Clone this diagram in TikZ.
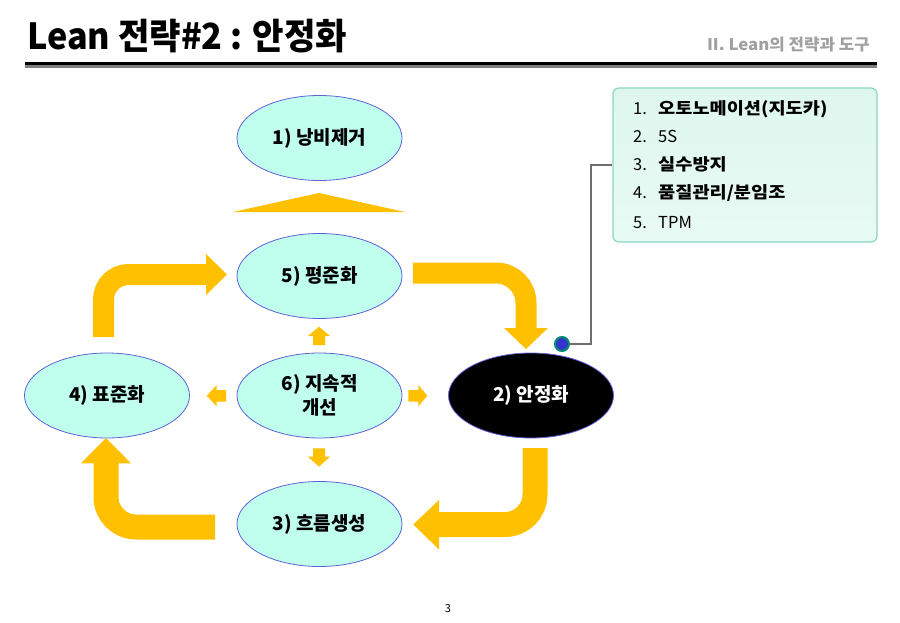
\documentclass[tikz,border=0pt]{standalone}
\usepackage{fontspec}
\setmainfont{Noto Sans CJK KR}
\usetikzlibrary{shapes.geometric,calc}
\definecolor{gold}{RGB}{255,192,0}
\definecolor{mint}{RGB}{192,255,238}
\definecolor{ellborder}{RGB}{96,96,214}
\definecolor{boxborder}{RGB}{140,212,196}
\definecolor{boxtop}{RGB}{222,247,238}
\definecolor{boxbot}{RGB}{232,250,244}
\definecolor{subgray}{RGB}{160,160,160}
\definecolor{dotblue}{RGB}{52,52,204}
\definecolor{dotgreen}{RGB}{0,140,112}
\definecolor{linkgray}{RGB}{110,110,110}
\newcommand{\wide}[1]{\scalebox{1.13}[1]{#1}}
\tikzset{
  ell/.style={ellipse, draw=ellborder, fill=mint, line width=0.8pt,
    minimum width=165pt, minimum height=85pt, inner sep=0pt,
    font=\fontsize{19}{23.5}\selectfont\bfseries, align=center},
  thinflow/.style={draw=gold, line width=21pt, line cap=butt},
  thickflow/.style={draw=gold, line width=25pt, line cap=butt},
  headtip/.style={fill=gold, draw=none},
  itemline/.style={anchor=base west, inner sep=0pt, font=\fontsize{16.5}{19}\selectfont},
}
\begin{document}
\begin{tikzpicture}[x=1pt,y=-1pt]
\useasboundingbox (0,0) rectangle (900,623);
% header
\node[anchor=base west, inner sep=0pt] (title) at (27,49.3)
  {\scalebox{0.95}[1]{\fontsize{36}{40}\selectfont\bfseries Lean 전략\#2 : 안정화}};
\node[anchor=base east, inner sep=0pt, text=subgray] (subtitle) at (870,50.5)
  {\scalebox{1.05}[1]{\fontsize{16}{19}\selectfont\bfseries II. Lean의 전략과 도구}};
\fill[black] (25,62) rectangle (877,65);
\fill[gray] (25,65) rectangle (877,68);

% ellipses
\node[ell] (n1) at (319.5,138) {1) 낭비제거};
\node[ell] (n5) at (319.5,276) {5) 평준화};
\node[ell] (n6) at (319.5,395.5) {6) 지속적\\개선};
\node[ell] (n3) at (319.5,524) {3) 흐름생성};
\node[ell] (n4) at (107,395.5) {4) 표준화};
\node[ell, fill=black, text=white] (n2) at (531,395.5) {2) 안정화};

% triangle under 1)
\fill[gold] (233,212) -- (319,193) -- (405,212) -- cycle;

% big flow arrows
\coordinate (a1s) at (103.5,337);
\coordinate (a1e) at (206,274.5);
\draw[thinflow, rounded corners=25pt] (a1s) |- (a1e);
\fill[headtip] (206,254) -- (227,274.5) -- (206,295) -- cycle;

\coordinate (a2s) at (413,273);
\coordinate (a2e) at (526,328);
\draw[thinflow, rounded corners=30pt] (a2s) -| (a2e);
\fill[headtip] (504,328) -- (548,328) -- (526,349) -- cycle;

\coordinate (a3s) at (535,448);
\coordinate (a3e) at (439,524.5);
\draw[thickflow, rounded corners=30pt] (a3s) |- (a3e);
\fill[headtip] (439,500) -- (413.3,524.5) -- (439,549.5) -- cycle;

\coordinate (a4s) at (215,527);
\coordinate (a4e) at (106,463);
\draw[thickflow, rounded corners=30pt] (a4s) -| (a4e);
\fill[headtip] (81,463.3) -- (106,438) -- (131,463.3) -- cycle;

% small arrows around 6)
\fill[headtip] (319,326.7) -- (330,336) -- (325,336) -- (325,345) -- (313,345) -- (313,336) -- (308,336) -- cycle;
\fill[headtip] (313,448.3) -- (325,448.3) -- (325,456.7) -- (330,456.7) -- (319,466.7) -- (308,456.7) -- (313,456.7) -- cycle;
\fill[headtip] (226,390) -- (216.7,390) -- (216.7,385) -- (206.7,395.7) -- (216.7,406.5) -- (216.7,401.5) -- (226,401.5) -- cycle;
\fill[headtip] (408.3,390) -- (418.3,390) -- (418.3,385) -- (427.3,395.7) -- (418.3,406.5) -- (418.3,401.5) -- (408.3,401.5) -- cycle;

% callout box
\node[draw=boxborder, line width=1.2pt, rounded corners=6pt, top color=boxtop, bottom color=boxbot,
  minimum width=264pt, minimum height=154pt, inner sep=0pt] (box) at (745,165) {};
\node[itemline] (l1) at (633,115) {\makebox[25pt][l]{1.}\wide{\textbf{오토노메이션(지도카)}}};
\node[itemline] (l2) at (633,142.7) {\makebox[25pt][l]{2.}5S};
\node[itemline] (l3) at (633,171) {\makebox[25pt][l]{3.}\wide{\textbf{실수방지}}};
\node[itemline] (l4) at (633,199) {\makebox[25pt][l]{4.}\wide{\textbf{품질관리/분임조}}};
\node[itemline] (l5) at (633,229) {\makebox[25pt][l]{5.}TPM};

% connector dot
\node[circle, fill=dotblue, draw=dotgreen, line width=2pt, minimum size=14pt, inner sep=0pt] (dot) at (562,344) {};
\coordinate (bend) at (591,165);
\draw[draw=linkgray, line width=1.2pt] (box.west) -- (bend) |- (dot.east);

% page number
\node[inner sep=0pt, font=\fontsize{11}{13}\selectfont] (page) at (448,609) {3};
\end{tikzpicture}
\end{document}
